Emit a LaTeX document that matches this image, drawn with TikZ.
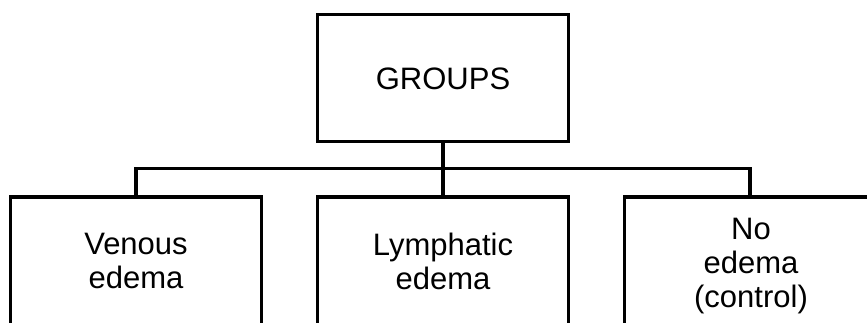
\documentclass[tikz,border=0pt]{standalone}
\usepackage{fontspec}
\setmainfont{Liberation Sans}
\begin{document}
\begin{tikzpicture}[x=1pt,y=1pt,
  boxstyle/.style={draw=black,line width=3.2pt,rectangle,minimum width=251pt,inner sep=0pt},
  labelstyle/.style={align=center,font=\fontsize{31}{34}\selectfont,inner sep=0pt},
  conn/.style={draw=black,line width=3.2pt}]
\useasboundingbox (0,0) rectangle (867,322);
\clip (0,0) rectangle (867,322);
\fill[white] (0,0) rectangle (867,322);
\node[boxstyle,minimum height=127pt] (groups) at (443,244) {};
\node[labelstyle] (groupstext) at (443,243) {GROUPS};
\node[boxstyle,minimum height=225pt] (left) at (136,12.5) {};
\node[boxstyle,minimum height=225pt] (mid) at (443,12.5) {};
\node[boxstyle,minimum height=225pt] (right) at (750,12.5) {};
\node[labelstyle] (lefttext) at (136,61) {Venous\\edema};
\node[labelstyle] (midtext) at (443,61) {Lymphatic\\edema};
\node[labelstyle] (righttext) at (751,56) {No\\edema\\(control)};
\draw[conn] (groups.south) -- (mid.north);
\draw[conn] (left.north) -- ++(0,27) -| (right.north);
\end{tikzpicture}
\end{document}
